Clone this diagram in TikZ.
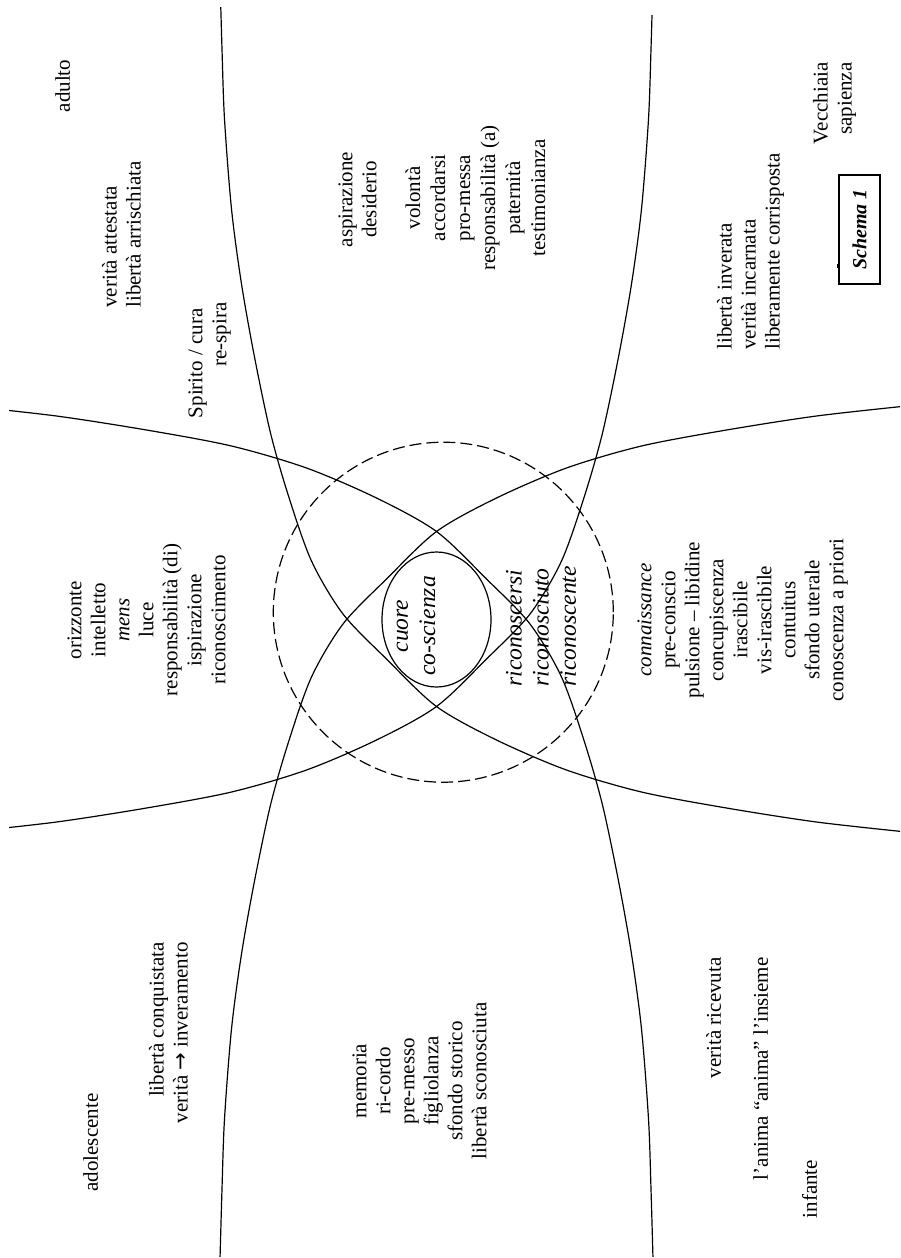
\documentclass[tikz,border=0pt]{standalone}
\usepackage{fontspec}
\setmainfont{Liberation Serif}
\newfontfamily\arrowfont{DejaVu Sans}
\begin{document}
\begin{tikzpicture}[x=0.5pt,y=-0.5pt,
  line/.style={line width=0.6pt},
  lbl/.style={rotate=90, inner sep=0pt, align=center,
     font=\fontsize{10.5}{12}\selectfont,
     execute at begin node=\strut, execute at end node=\strut},
  lblL/.style={lbl, align=left},
  lblR/.style={lbl, align=right},
  ital/.style={font=\fontsize{11.8}{13.6}\selectfont\itshape},
  quarter/.pic={\draw[line] plot[smooth,tension=0.5] coordinates {(-470,-213) (-380,-203) (-290,-189) (-205,-173) (-130,-151) (-60,-121) (0,-87.5) (50,-40) (93.5,5) (125,58) (148,123) (166,186) (182,262) (195,335) (205,410) (212,500) (214.5,570) (216.5,640)};}
]
\fill[white] (0,0) rectangle (900,1258);
\useasboundingbox (0,0) rectangle (900,1258);

% four large curves
\begin{scope}
  \clip (9,0) rectangle (900,1256);
  \pic at (436.5,619) {quarter};
\end{scope}
\begin{scope}
  \clip (0,0) rectangle (900,1256);
  \pic[xscale=-1] at (436.5,619) {quarter};
\end{scope}
\begin{scope}
  \clip (9,15) rectangle (900,1258);
  \pic[yscale=-1] at (436.5,619) {quarter};
\end{scope}
\begin{scope}
  \clip (0,7) rectangle (900,1258);
  \pic[xscale=-1,yscale=-1] at (436.5,619) {quarter};
\end{scope}

% circles
\draw[line, dash pattern=on 6pt off 2.5pt] (443.3,612.2) circle[radius=85pt];
\draw[line] (436.5,619.5) ellipse[x radius=27.25pt, y radius=33.75pt];

% texts
\node[lbl] (adulto) at (65,86) {adulto};
\node[lblL, anchor=west] (verAtt) at (125,308) {verità attestata\\libertà arrischiata};
\node[lblR, anchor=east] (spirito) at (211,302) {Spirito / cura\kern3pt\\re-spira};
\node[lbl] (aspir) at (361,199.5) {aspirazione\\desiderio};
\node[lbl, font=\fontsize{10.5}{12.5}\selectfont] (volonta) at (479,198) {volontà\\accordarsi\\pro-messa\\responsabilità (a)\\paternità\\testimonianza};
\node[lblL, anchor=west] (libInv) at (752,350) {libertà inverata\\verità incarnata\\liberamente corrisposta};
\node[lblR, anchor=east] (vecch) at (836,62) {Vecchiaia\\sapienza};
\node[draw, line, rotate=90, inner sep=0pt, minimum width=54.5pt, minimum height=20.5pt,
      font=\fontsize{10}{12}\selectfont\bfseries\itshape] (schema) at (859.5,229.5) {Schema 1};
\draw[line] (837.5,264) -- (837.5,268);

\node[lbl] (oriz) at (150,620) {orizzonte\\intelletto\\\textit{mens}\\luce\\responsabilità (di)\\ispirazione\\riconoscimento};
\node[lbl, ital] (cuore) at (420,626) {cuore\\co-scienza};
\node[lblL, ital, anchor=west] (ricon) at (545,687) {riconoscersi\\riconosciuto\\riconoscente};
\node[lbl] (conn) at (744,620) {\textit{connaissance}\\pre-conscio\\pulsione – libidine\\concupiscenza\\irascibile\\vis-irascibile\\contuitus\\sfondo uterale\\conoscenza a priori};

\node[lbl] (adol) at (93,1142.5) {adolescente};
\node[lblR, anchor=east] (libConq) at (172,942) {libertà conquistata\\verità {\arrowfont →} inveramento};
\node[lbl] (memoria) at (423,1081) {memoria\\ri-cordo\\pre-messo\\figliolanza\\sfondo storico\\libertà sconosciuta};
\node[lblR, anchor=east] (verRic) at (716,957) {verità ricevuta};
\node[lblR, anchor=east] (anima) at (763,957) {l’anima “anima” l’insieme};
\node[lbl] (infante) at (812,1189) {infante};
\end{tikzpicture}
\end{document}
